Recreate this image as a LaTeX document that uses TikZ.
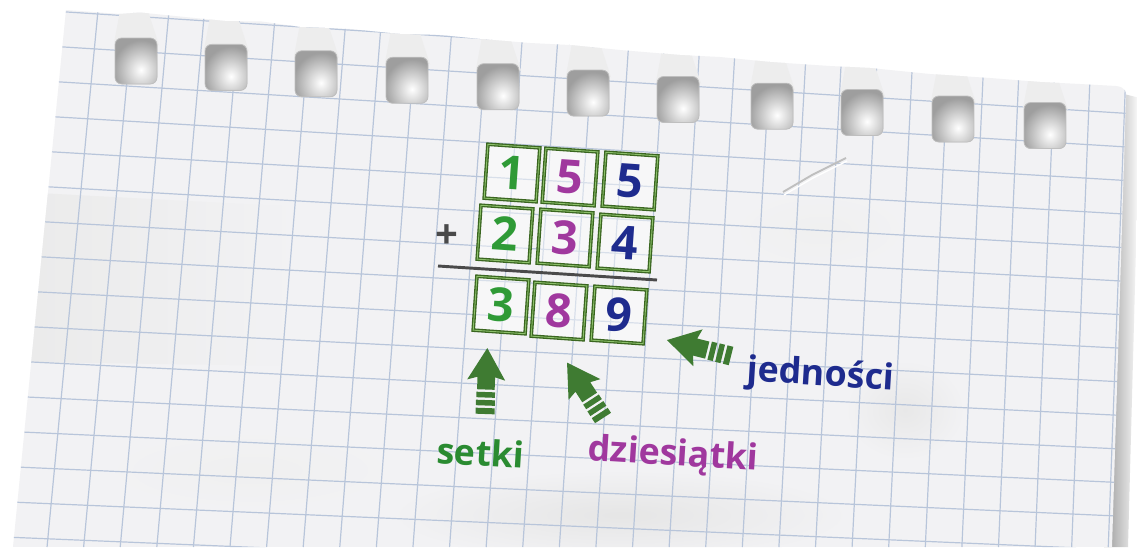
\documentclass[tikz,border=0pt]{standalone}
\usepackage{fontspec}
\setmainfont{Open Sans}
\newfontfamily\numfont{Open Sans}
\newfontfamily\labfont{Open Sans}
\usetikzlibrary{calc}
\definecolor{paper}{HTML}{F2F2F4}
\definecolor{gridc}{HTML}{B8C5DA}
\definecolor{dgreen}{HTML}{2F9A36}
\definecolor{dpurple}{HTML}{A0389E}
\definecolor{dblue}{HTML}{1E2B8E}
\definecolor{arrowgreen}{HTML}{3F7B32}
\definecolor{boxdark}{HTML}{3A6620}
\definecolor{boxlight}{HTML}{8CC06A}
\definecolor{linegrey}{HTML}{4A4A4A}
\tikzset{
  digitbox/.style={draw=boxdark, double=boxlight, double distance=0.7pt, line width=1pt,
    fill=white, fill opacity=0.45, text opacity=1, minimum width=39pt, minimum height=40.5pt,
    inner sep=0pt, rotate=-4, font=\numfont\bfseries\fontsize{35}{35}\selectfont},
  lab/.style={font=\labfont\bfseries\fontsize{26.8}{30}\selectfont, inner sep=0pt, rotate=-3.5, anchor=base west},
  fatarrow/.pic={
    \fill[arrowgreen] (0,-9.5) rectangle (6,9.5);
    \fill[arrowgreen] (8.5,-9.5) rectangle (14,9.5);
    \fill[arrowgreen] (16.5,-9.3) rectangle (22,9.3);
    \fill[arrowgreen] (24.5,-8.8) -- (37,-8.8) -- (34,-19) -- (66,0) -- (34,19) -- (37,8.8) -- (24.5,8.8) -- cycle;
  }
}
\begin{document}
\begin{tikzpicture}[x=0.75pt,y=0.75pt]
\useasboundingbox (0,0) rectangle (1137,-547);
\fill[white] (0,0) rectangle (1137,-547);
% shadow at right edge
\shade[left color=black!40, right color=white] (1116,-92) -- (1140,-98) -- (1128,-547) -- (1104,-547) -- cycle;
% paper
\begin{scope}
\clip (66,-10) -- (120,-14) -- (140,-12.5) -- (180,-16.5) -- (225,-21) -- (262,-21.5) -- (300,-27) -- (350,-29)
  -- (400,-34) -- (440,-35) -- (480,-39) -- (530,-43) -- (570,-45) -- (620,-50) -- (680,-55) -- (720,-57)
  -- (770,-62) -- (830,-66) -- (870,-68) -- (930,-74) -- (990,-78) -- (1040,-82) -- (1080,-84)
  -- (1116,-86) .. controls (1125,-87) and (1127,-92) .. (1126,-98) -- (1112,-547) -- (13,-547) -- cycle;
\fill[paper] (0,0) rectangle (1137,-547);
% shading of the paper
\shade[left color=black!8, right color=paper] (20,-192) -- (300,-207) -- (300,-366) -- (20,-362) -- cycle;
\shade[inner color=black!10, outer color=paper] (620,-515) ellipse (230 and 45);
\shade[inner color=black!9, outer color=paper] (905,-410) ellipse (60 and 50);
\shade[inner color=black!6, outer color=paper] (820,-230) ellipse (90 and 40);
\shade[inner color=black!6, outer color=paper] (250,-470) ellipse (150 and 40);
% grid: vertical lines
\foreach \i in {0,...,30}{
  \pgfmathsetmacro\X{80+35.9*\i}
  \pgfmathsetmacro\k{-0.095+0.002*\i}
  \pgfmathsetmacro\xa{\X-200*\k}
  \pgfmathsetmacro\xb{\X+347*\k}
  \draw[gridc, line width=0.9pt] (\xa,0) -- (\xb,-547);
}
% grid: horizontal lines
\foreach \j in {-6,...,10}{
  \pgfmathsetmacro\Y{222+35.2*\j}
  \pgfmathsetmacro\m{0.055-0.0015*\j}
  \pgfmathsetmacro\ya{\Y-48*\m}
  \pgfmathsetmacro\yb{\Y+1089*\m}
  \draw[gridc, line width=0.9pt] (0,-\ya) -- (1137,-\yb);
}
% crease
\draw[black!25, line width=1.4pt] (783,-192) -- (812,-175) -- (846,-158);
\draw[white, line width=1pt] (784,-195) -- (813,-178) -- (847,-161);
% holes
\foreach \cx in {136,226,316,407,498,588,678,772,862,953,1045}{
  \pgfmathsetmacro\cy{61+(\cx-136)*0.071}
  \pgfmathsetmacro\ty{10+(\cx-66)*0.0717}
  \fill[black!7] (\cx-22,-\cy+18) -- (\cx-16,-\ty+4) -- (\cx+12,-\ty+4) -- (\cx+23,-\cy+16) -- cycle;
  \begin{scope}
    \clip[rounded corners=5pt] (\cx-21,-\cy+23) rectangle (\cx+21,-\cy-23);
    \fill[black!38] (\cx-22,-\cy+24) rectangle (\cx+22,-\cy-24);
    \shade[inner color=white, outer color=black!38] (\cx+5,-\cy-9) ellipse (28 and 30);
  \end{scope}
  \draw[black!25, line width=0.6pt, rounded corners=5pt] (\cx-21,-\cy+23) rectangle (\cx+21,-\cy-23);
}
\end{scope}
% digit boxes
\node[digitbox, text=dgreen]  (a1) at (512,-173) {1};
\node[digitbox, text=dpurple] (a2) at (570,-177) {5};
\node[digitbox, text=dblue]   (a3) at (630,-181) {5};
\node[digitbox, text=dgreen]  (b1) at (505,-234) {2};
\node[digitbox, text=dpurple] (b2) at (565,-238) {3};
\node[digitbox, text=dblue]   (b3) at (625,-243) {4};
\node[digitbox, text=dgreen]  (c1) at (501,-305) {3};
\node[digitbox, text=dpurple] (c2) at (559,-311) {8};
\node[digitbox, text=dblue]   (c3) at (619,-315) {9};
% plus and rule
\node[text=linegrey, font=\numfont\bfseries\fontsize{30}{30}\selectfont, inner sep=0pt] (plus) at (447,-237) {+};
\coordinate (ruleL) at (438,-266);
\coordinate (ruleR) at (657,-280);
\draw[linegrey, line width=2.2pt] (ruleL) -- (ruleR);
% arrows
\pic[rotate=88] at (485,-414) {fatarrow};
\pic[rotate=123] at (603,-418) {fatarrow};
\pic[rotate=166] at (731,-356) {fatarrow};
% labels
\node[lab, text=dgreen!90!black] (setki) at (436,-463) {setki};
\node[lab, text=dpurple] (dzies) at (587,-460) {dziesiątki};
\node[lab, text=dblue] (jedn) at (746,-381) {jedności};
\end{tikzpicture}
\end{document}
